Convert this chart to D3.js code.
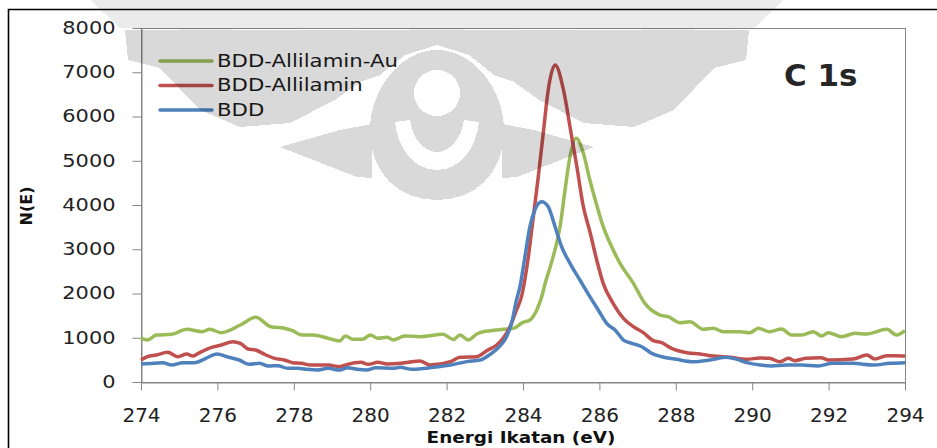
<!DOCTYPE html>
<html>
<head>
<meta charset="utf-8">
<script src="https://cdn.jsdelivr.net/npm/d3@7"></script>
<style>
  html, body { margin: 0; padding: 0; background: #fff; }
  svg { display: block; font-family: "DejaVu Sans", sans-serif; }
</style>
</head>
<body>
<svg id="chart" width="937" height="448"></svg>
<script>
// data (binding energy eV, counts)
const seriesNames = ["BDD-Allilamin-Au", "BDD-Allilamin", "BDD"];

const bddAllilaminAu = [
  [274.0, 990], [274.17, 950], [274.4, 1060], [274.8, 1078], [275.2, 1191],
  [275.6, 1137], [275.8, 1191], [276.1, 1115], [276.6, 1288], [277.0, 1462],
  [277.4, 1250], [277.75, 1213], [277.97, 1160], [278.2, 1062], [278.5, 1062],
  [278.9, 988], [279.2, 927], [279.35, 1040], [279.55, 965], [279.8, 965],
  [280.0, 1062], [280.2, 988], [280.45, 1010], [280.6, 949], [280.9, 1040],
  [281.3, 1024], [281.9, 1077], [282.18, 963], [282.35, 1062], [282.57, 949],
  [282.79, 1085], [283.14, 1160], [283.48, 1191], [283.75, 1213], [284.0, 1349],
  [284.18, 1402], [284.36, 1628], [284.49, 1929], [284.58, 2230], [284.79, 2832],
  [284.97, 3510], [285.1, 4339], [285.23, 5092], [285.39, 5507], [285.58, 5168],
  [285.75, 4565], [285.93, 4000], [286.1, 3510], [286.28, 3134], [286.54, 2682],
  [286.89, 2230], [287.19, 1778], [287.59, 1514], [287.8, 1476], [288.11, 1340],
  [288.37, 1363], [288.72, 1191], [288.98, 1213], [289.24, 1137], [289.68, 1137],
  [289.94, 1115], [290.16, 1213], [290.45, 1137], [290.77, 1198], [291.03, 1062],
  [291.3, 1062], [291.6, 1137], [291.82, 1040], [291.99, 1115], [292.34, 1024],
  [292.69, 1100], [293.0, 1085], [293.52, 1191], [293.78, 1062], [294.0, 1160]
];

const bddAllilamin = [
  [274.0, 497], [274.17, 572], [274.4, 610], [274.7, 670], [274.96, 572],
  [275.2, 632], [275.35, 587], [275.5, 648], [275.83, 776], [276.1, 836],
  [276.4, 912], [276.6, 874], [276.8, 746], [277.0, 723], [277.27, 610],
  [277.5, 535], [277.75, 497], [277.97, 437], [278.2, 422], [278.45, 384],
  [278.9, 384], [279.2, 346], [279.4, 399], [279.76, 444], [279.95, 399],
  [280.2, 444], [280.45, 407], [280.8, 422], [281.1, 460], [281.3, 475],
  [281.57, 384], [282.1, 460], [282.35, 558], [282.79, 572], [283.05, 708],
  [283.31, 836], [283.48, 987], [283.66, 1250], [283.83, 1628], [283.96, 1929],
  [284.14, 2832], [284.27, 3736], [284.4, 4640], [284.53, 5620], [284.66, 6599],
  [284.84, 7164], [285.06, 6599], [285.23, 5770], [285.41, 4866], [285.58, 3962],
  [285.75, 3400], [285.93, 2757], [286.1, 2230], [286.36, 1778], [286.63, 1439],
  [286.89, 1250], [287.15, 1115], [287.41, 934], [287.63, 889], [287.89, 761],
  [288.29, 663], [288.63, 633], [288.98, 588], [289.42, 558], [289.86, 512],
  [290.2, 545], [290.45, 535], [290.73, 459], [290.95, 535], [291.11, 482],
  [291.4, 535], [291.8, 550], [292.0, 497], [292.64, 520], [293.0, 610],
  [293.21, 520], [293.52, 595], [293.95, 588], [294.0, 590]
];

const bdd = [
  [274.0, 407], [274.35, 422], [274.57, 437], [274.8, 384], [275.1, 437],
  [275.4, 437], [275.7, 535], [275.99, 632], [276.25, 572], [276.57, 497],
  [276.84, 399], [277.1, 422], [277.33, 361], [277.58, 369], [277.84, 309],
  [278.1, 309], [278.36, 286], [278.6, 271], [278.9, 309], [279.2, 271],
  [279.4, 324], [279.66, 286], [279.9, 271], [280.15, 324], [280.6, 309],
  [280.78, 331], [281.1, 286], [281.65, 331], [282.1, 384], [282.53, 460],
  [282.88, 497], [283.14, 625], [283.4, 814], [283.57, 1024], [283.7, 1326],
  [283.83, 1854], [283.92, 2154], [284.05, 2832], [284.18, 3510], [284.31, 3887],
  [284.49, 4075], [284.66, 3962], [284.84, 3510], [285.01, 3058], [285.23, 2682],
  [285.49, 2305], [285.75, 1928], [285.97, 1627], [286.19, 1326], [286.41, 1175],
  [286.63, 949], [286.85, 874], [287.11, 798], [287.37, 648], [287.63, 572],
  [288.02, 512], [288.46, 459], [288.89, 497], [289.33, 558], [289.6, 512],
  [289.86, 437], [290.21, 384], [290.5, 362], [290.9, 384], [291.29, 384],
  [291.73, 362], [292.1, 422], [292.64, 422], [293.16, 384], [293.6, 422],
  [294.0, 437]
];

const xTicks = [274, 276, 278, 280, 282, 284, 286, 288, 290, 292, 294];
const yTicks = [0, 1000, 2000, 3000, 4000, 5000, 6000, 7000, 8000];

const colors = ["#9bbb59", "#c0504d", "#4f81bd"];
const allSeries = [bddAllilaminAu, bddAllilamin, bdd];

const margin = { top: 28, right: 32, bottom: 66, left: 141 };
const W = 937, H = 448;
const plotW = W - margin.left - margin.right;   // 764
const plotH = H - margin.top - margin.bottom;   // 354

const svg = d3.select("#chart");

const x = d3.scaleLinear().domain([274, 294]).range([margin.left, margin.left + plotW]);
const y = d3.scaleLinear().domain([0, 8000]).range([margin.top + plotH, margin.top]);

// outer frame (black, only top and left visible)
svg.append("path")
  .attr("d", "M8.5,448 V9.5 H937")
  .attr("fill", "none")
  .attr("stroke", "#000")
  .attr("stroke-width", 1.6);

// plot border
svg.append("rect")
  .attr("x", margin.left + 0.5)
  .attr("y", margin.top + 0.5)
  .attr("width", plotW)
  .attr("height", plotH)
  .attr("fill", "none")
  .attr("stroke", "#868686")
  .attr("stroke-width", 1);

// y axis
const sxY = 1.23;
const yAxis = svg.append("g")
  .attr("transform", `translate(${margin.left + 0.5},0)`)
  .call(d3.axisLeft(y).tickValues(yTicks).tickSize(9).tickSizeOuter(0).tickFormat(d3.format("d")));
yAxis.select(".domain").attr("stroke", "#868686");
yAxis.selectAll(".tick line").attr("stroke", "#868686");
yAxis.selectAll(".tick text")
  .attr("x", -26 / sxY)
  .attr("transform", `scale(${sxY},1)`)
  .attr("font-size", 17)
  .attr("font-family", "DejaVu Sans")
  .attr("fill", "#222");

// x axis
const xAxis = svg.append("g")
  .attr("transform", `translate(0,${margin.top + plotH + 0.5})`)
  .call(d3.axisBottom(x).tickValues(xTicks).tickSize(8).tickSizeOuter(0).tickFormat(d3.format("d")));
xAxis.select(".domain").attr("stroke", "#868686");
xAxis.selectAll(".tick line").attr("stroke", "#868686");
xAxis.selectAll(".tick text")
  .attr("y", 25)
  .attr("font-size", 20)
  .attr("font-family", "DejaVu Sans")
  .attr("fill", "#222");

// axis titles
const sxT = 1.15;
svg.append("text")
  .attr("x", 521 / sxT)
  .attr("y", 443)
  .attr("transform", `scale(${sxT},1)`)
  .attr("text-anchor", "middle")
  .attr("font-size", 16)
  .attr("font-weight", "bold")
  .attr("fill", "#111")
  .text("Energi Ikatan (eV)");

svg.append("text")
  .attr("transform", "translate(32,206) rotate(-90)")
  .attr("text-anchor", "middle")
  .attr("font-size", 16)
  .attr("font-weight", "bold")
  .attr("fill", "#111")
  .text("N(E)");

// lines
const line = d3.line()
  .x((d) => x(d[0]))
  .y((d) => y(d[1]))
  .curve(d3.curveMonotoneX);

allSeries.forEach((data, i) => {
  svg.append("path")
    .datum(data)
    .attr("fill", "none")
    .attr("stroke", colors[i])
    .attr("stroke-width", 3.5)
    .attr("stroke-linejoin", "round")
    .attr("d", line);
});

// legend
const sxL = 1.25;
const legend = svg.append("g");
seriesNames.forEach((name, i) => {
  const ly = 61 + i * 24.5;
  legend.append("line")
    .attr("x1", 160).attr("x2", 212)
    .attr("y1", ly).attr("y2", ly)
    .attr("stroke", colors[i])
    .attr("stroke-width", 3.5)
    .attr("stroke-linecap", "round");
  legend.append("text")
    .attr("x", 217 / sxL)
    .attr("y", ly + 5.8)
    .attr("transform", `scale(${sxL},1)`)
    .attr("font-size", 17)
    .attr("fill", "#1a1a1a")
    .text(name);
});

// panel label
svg.append("text")
  .attr("x", 784)
  .attr("y", 86)
  .attr("font-size", 31)
  .attr("font-weight", "bold")
  .attr("fill", "#262626")
  .text("C 1s");

// faint watermark in the background (left half, mirrored)
const wmTop = "M90,0 H437 V30 L330,28 L200,30 L120,28 Z";
const wmHalf = [
  "M125,30 L437,30 L437,45 L405,55 L380,75 L360,82 L335,100 L290,123 L240,127 L200,110 L160,68 L128,60 Z",
  "M280,147 L340,130 L372,124 L372,178 L357,177 Z",
  "M437,50 C400,50 370,90 370,130 C370,175 400,200 437,200 Z M437,70 A23,23 0 0 0 437,116 Z M437,170 C415,170 398,150 395,122 L410,120 C413,140 425,152 437,152 Z"
];
const wm = svg.append("g")
  .style("mix-blend-mode", "multiply")
  .attr("pointer-events", "none");
const wmSolid = wm.append("g").attr("opacity", 0.15);
const wmFaint = wm.append("g").attr("opacity", 0.08);
["translate(0,0)", "translate(874,0) scale(-1,1)"].forEach((tr) => {
  wmFaint.append("path")
    .attr("transform", tr)
    .attr("d", wmTop)
    .attr("fill", "#000")
    .attr("shape-rendering", "crispEdges");
  const half = wmSolid.append("g").attr("transform", tr);
  wmHalf.forEach((d) => {
    half.append("path")
      .attr("d", d)
      .attr("fill", "#000")
      .attr("fill-rule", "evenodd")
      .attr("shape-rendering", "crispEdges");
  });
});
</script>
</body>
</html>
